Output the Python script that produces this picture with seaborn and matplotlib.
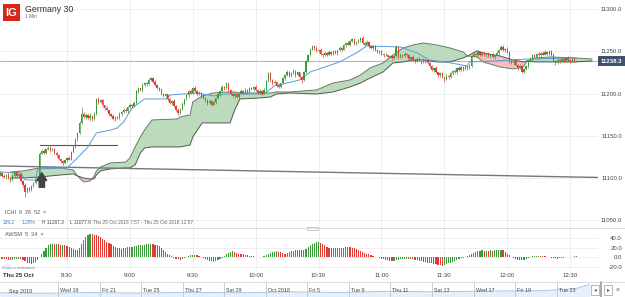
import numpy as np
import matplotlib
matplotlib.use("Agg")
import matplotlib.pyplot as plt
from matplotlib.patches import Rectangle
import seaborn as sns

# ---------------- data ----------------
first_open = 11104
# 1-minute closes, 7:58 .. 12:35
close = [
    11106, 11103, 11101, 11104, 11100, 11098, 11103, 11107, 11102, 11105,   # -2..7
    11097, 11092, 11084, 11088, 11086, 11091, 11094, 11098, 11101, 11129,   # 8..17
    11132, 11130, 11134, 11136, 11133, 11135, 11130, 11127, 11123, 11120,
    11118, 11121, 11124, 11122, 11131, 11137, 11146, 11153, 11165, 11176,
    11172, 11175, 11171, 11174, 11170, 11176, 11194, 11190, 11192, 11186,
    11183, 11180, 11176, 11174, 11170, 11172, 11171, 11176, 11178, 11181,
    11179, 11184, 11187, 11185, 11189, 11203, 11206, 11204, 11210, 11213,
    11211, 11216, 11218, 11214, 11210, 11207, 11204, 11200, 11197, 11199,
    11193, 11189, 11191, 11185, 11181, 11177, 11182, 11188, 11193, 11198,
    11203, 11201, 11207, 11203, 11199, 11201, 11197, 11195, 11192, 11189,
    11191, 11187, 11190, 11195, 11199, 11203, 11208, 11206, 11212, 11204,
    11200, 11197, 11199, 11196, 11200, 11203, 11201, 11204, 11202, 11206,
    11205, 11208, 11204, 11201, 11203, 11200, 11204, 11215, 11224, 11216,
    11212, 11214, 11210, 11208, 11212, 11218, 11222, 11226, 11221, 11224,
    11227, 11222, 11225, 11219, 11216, 11226, 11238, 11246, 11252, 11256,
    11254, 11250, 11252, 11247, 11245, 11248, 11246, 11249, 11247, 11250,
    11248, 11251, 11254, 11252, 11257, 11260, 11258, 11262, 11264, 11259,
    11261, 11263, 11266, 11260, 11258, 11261, 11256, 11254, 11256, 11251,
    11249, 11250, 11247, 11245, 11246, 11243, 11244, 11242, 11244, 11255,
    11243, 11246, 11244, 11247, 11245, 11241, 11243, 11240, 11238, 11241,
    11239, 11237, 11240, 11238, 11236, 11232, 11228, 11230, 11225, 11222,
    11224, 11219, 11217, 11221, 11219, 11224, 11227, 11225, 11230, 11228,
    11231, 11229, 11232, 11230, 11233, 11244, 11247, 11245, 11249, 11246,
    11248, 11245, 11247, 11244, 11246, 11243, 11245, 11248, 11252, 11255,
    11251, 11253, 11249, 11238, 11236, 11239, 11234, 11230, 11233, 11226,
    11229, 11232, 11238, 11241, 11245, 11243, 11247, 11245, 11248, 11246,
    11249, 11247, 11250, 11246, 11239, 11236, 11240, 11238, 11241, 11239,
    11242, 11240, 11238, 11241, 11239, 11238.3,
]
wick_up = [
    2, 1, 2, 1, 3, 1, 2, 1, 2, 1,   1, 1, 2, 1, 2, 1, 1, 2, 1, 2,
    2, 2, 1, 2, 2, 1, 1, 2, 1, 1,   1, 2, 1, 2, 1, 2, 1, 1, 2, 8,
    2, 2, 1, 3, 1, 2, 1, 2, 1, 1,   1, 2, 1, 1, 2, 1, 1, 2, 1, 2,
    2, 1, 2, 1, 2, 1, 2, 1, 2, 1,   1, 2, 2, 1, 2, 1, 1, 2, 1, 2,
    1, 2, 1, 2, 1, 2, 1, 2, 1, 2,   1, 2, 1, 2, 1, 2, 1, 2, 1, 1,
    2, 1, 2, 1, 2, 1, 2, 1, 2, 1,   1, 2, 1, 2, 1, 2, 1, 2, 1, 2,
    2, 1, 2, 1, 2, 1, 2, 1, 2, 1,   1, 2, 1, 2, 1, 2, 1, 2, 1, 2,
    2, 1, 2, 1, 2, 1, 2, 1, 2, 1,   1, 2, 1, 2, 1, 2, 1, 2, 1, 2,
    2, 1, 2, 1, 2, 1, 2, 1, 2, 1,   1, 2, 1.3, 2, 1, 2, 1, 2, 1, 2,
    2, 1, 2, 1, 2, 1, 2, 1, 2, 2,   1, 2, 1, 2, 1, 2, 1, 2, 1, 2,
    2, 1, 2, 1, 2, 1, 2, 1, 2, 1,   1, 2, 1, 2, 1, 2, 1, 2, 1, 2,
    2, 1, 2, 1, 2, 1, 2, 1, 2, 1,   1, 2, 1, 2, 1, 2, 1, 2, 1, 3,
    2, 1, 2, 1, 2, 1, 2, 1, 2, 1,   1, 2, 1, 2, 1, 2, 1, 2, 1, 2,
    2, 1, 2, 1, 2, 1, 2, 1, 2, 1,   1, 2, 1, 2, 1, 1,
]
wick_dn = [
    1, 2, 1, 2, 1, 3, 1, 2, 1, 2,   2, 2, 6, 1, 2, 1, 2, 1, 1, 1,
    1, 2, 1, 1, 2, 1, 1, 2, 1, 2,   2, 1, 2, 1, 1, 1, 1, 2, 1, 1,
    1, 2, 1, 2, 2, 1, 1, 2, 1, 2,   2, 1, 2, 2, 1, 2, 1, 1, 2, 1,
    1, 2, 1, 2, 1, 1, 2, 1, 2, 1,   2, 1, 1, 2, 1, 2, 1, 2, 1, 2,
    2, 1, 2, 1, 2, 2, 1, 1, 2, 1,   2, 1, 2, 1, 2, 1, 2, 1, 2, 2,
    1, 2, 1, 2, 1, 2, 1, 2, 1, 2,   2, 1, 2, 1, 2, 1, 2, 1, 2, 1,
    1, 2, 1, 2, 1, 2, 1, 2, 1, 2,   2, 1, 2, 1, 2, 1, 2, 1, 2, 1,
    1, 2, 1, 2, 3, 1, 2, 1, 2, 1,   2, 1, 2, 1, 2, 1, 2, 1, 2, 1,
    1, 2, 1, 2, 1, 2, 1, 2, 1, 2,   2, 1, 2, 1, 2, 1, 2, 1, 2, 1,
    1, 2, 1, 2, 1, 2, 1, 2, 1, 1,   2, 1, 2, 1, 2, 1, 2, 1, 2, 1,
    1, 2, 1, 2, 1, 2, 1, 2, 1, 2,   2, 1, 3, 1, 2, 1, 2, 1, 2, 1,
    1, 2, 1, 2, 1, 2, 1, 2, 1, 2,   2, 1, 2, 1, 2, 1, 2, 1, 2, 1,
    1, 2, 1, 2, 1, 2, 1, 2, 1, 2,   2, 1, 2, 1, 2, 1, 2, 1, 2, 1,
    1, 2, 1, 2, 1, 2, 1, 2, 1, 2,   2, 1, 2, 1, 2, 1,
]
# Awesome oscillator (5, 34), one bar per minute
awsm = [
    -3, -3.5, -4, -4.5, -5, -5.5, -5, -4, -3, -2.5,
    -3, -5, -8, -11, -13, -14, -12, -9, -5, 0,
    7, 14, 20, 25, 27, 28, 27, 28, 27, 26,
    26, 25, 23, 21, 19, 17, 16, 15, 20, 28,
    36, 43, 48, 50, 49, 47, 46, 44, 42, 39,
    36, 33, 30, 27, 24, 22, 20, 19, 18.5, 19,
    20, 21, 21.5, 22, 23, 24, 25, 25.5, 26, 26.5,
    27, 27.5, 28, 27, 26.5, 26, 24, 20, 16, 12,
    8, 5, 2, -1, -3, -4, -5, -3, -1, 1,
    3, 4, 5, 5.5, 5, 3, 1, -1, -3, -5,
    -7, -8, -9, -8, -6, -4, -1, 3, 7, 10,
    12, 13, 12, 10, 8, 7, 6, 5, 4, 3.5,
    3, 2, 1, 0.5, 0, 0.5, 2, 5, 8, 10,
    11, 12, 12.5, 12, 11, 9, 8, 9, 11, 13,
    14, 15, 15.5, 15, 14.5, 15.5, 18, 22, 26, 29,
    31, 32, 33, 31, 28, 25, 22, 20, 19, 19.5,
    19, 19.2, 19.5, 20, 20.5, 21, 21.5, 21, 20.5, 19,
    17, 15.5, 14, 12, 10, 8, 6, 4, 2.5, 1,
    0, -1, -2.5, -4, -5, -6, -7, -7.5, -7, -6,
    -5, -4.5, -4, -3.5, -3, -3.5, -3, -4, -5, -6,
    -7, -8, -9, -10, -11, -12, -13, -14, -15, -16,
    -17, -18, -17, -15, -13, -11, -9, -7, -5, -3.5,
    -2, -1, 0.5, 2, 4, 7, 10, 12, 13, 14,
    14.5, 14, 14.2, 14, 14.5, 14.3, 14.6, 14.8, 15, 15.2,
    14.5, 12, 8, 4, 1, -2, -4, -5.5, -6, -6.5,
    -5, -3, -1, 1, 2.5, 3, 3.2, 2.8, 3, 2.5,
    2, 1, 0, -1, -1.5, -2, -2.5, -2, -1.5, -1,
    0, 0.5, 1, 1.5, 2, 2.5,
]
# Ichimoku (9, 26, 52): base line and the cloud, minutes after 8:00
kijun_t = [-2, 8, 10, 15, 16, 30, 34, 40, 44, 51, 54, 57, 61, 63, 67, 78, 79, 92,
           100, 106, 124, 129, 141, 146, 160, 168, 173, 189, 197, 203, 213, 221,
           222, 233, 250, 273]
kijun_p = [11107.3, 11106.1, 11097.9, 11097.9, 11110.9, 11112.1, 11121.5, 11136.9,
           11153.4, 11157.0, 11159.3, 11166.4, 11183.0, 11186.5, 11193.6, 11193.6,
           11198.3, 11200.7, 11197.2, 11199.5, 11199.5, 11209.0, 11216.1, 11225.5,
           11237.4, 11248.0, 11256.3, 11255.1, 11248.0, 11239.7, 11236.2, 11232.6,
           11237.4, 11238.5, 11240.9, 11242.1]
cloud_t = [3, 9, 17, 27, 33, 35, 38, 41, 43, 44, 46, 50.5, 58, 60, 62.5, 65, 67,
           70.5, 82.5, 84, 88.7, 90, 94.5, 99.7, 107.8, 110, 112.5, 122, 127, 130,
           136.4, 149, 157, 165, 170, 174.6, 180.8, 185.5, 190.3, 195, 200, 206.5,
           212.7, 219, 221, 225.6, 228.5, 236.6, 242.8, 247.6, 249.5, 253.3, 260.5,
           272.4, 280.5]
span_a = [11107.3, 11108.5, 11112.1, 11112.1, 11109.7, 11102.6, 11095.5, 11096.7,
          11102.6, 11108.5, 11113.2, 11117.9, 11119.1, 11123.9, 11136.9, 11148.7,
          11157.0, 11168.8, 11170.0, 11172.4, 11174.7, 11190.1, 11197.2, 11200.7,
          11201.9, 11201.9, 11200.7, 11200.7, 11200.7, 11201.9, 11201.9, 11204.3,
          11212.5, 11216.1, 11222.0, 11230.3, 11236.2, 11245.6, 11253.9, 11257.4,
          11259.8, 11257.4, 11253.9, 11249.2, 11244.4, 11243.3, 11237.4, 11231.4,
          11229.1, 11231.4, 11238.5, 11242.1, 11243.3, 11242.1, 11240.9]
span_b = [11100.2, 11100.2, 11101.4, 11103.8, 11105.0, 11102.6, 11100.2, 11099.1,
          11099.1, 11103.8, 11108.5, 11110.9, 11112.1, 11112.1, 11115.6, 11129.8,
          11135.7, 11136.9, 11136.9, 11136.9, 11139.2, 11148.7, 11165.3, 11165.3,
          11165.3, 11180.6, 11193.6, 11194.8, 11196.0, 11199.5, 11200.7, 11199.5,
          11201.9, 11207.8, 11212.5, 11218.4, 11225.5, 11236.2, 11237.4, 11239.7,
          11239.7, 11237.4, 11237.4, 11242.1, 11244.4, 11250.4, 11248.0, 11244.4,
          11239.7, 11237.4, 11238.5, 11237.4, 11237.4, 11237.4, 11238.5]
trend_t = [-2, 284]
trend_p = [11114.4, 11100.8]
level_t = [17, 54]
level_p = [11139.2, 11139.2]
arrow_t = 18
arrow_p = [11086.0, 11109.7]
last_price = 11238.3

price_ticks = [11050, 11100, 11150, 11200, 11250, 11300]
awsm_ticks = [-20, 0, 20, 40]
time_ticks = [30, 60, 90, 120, 150, 180, 210, 240, 270]
time_labels = ["8:30", "9:00", "9:30", "10:00", "10:30", "11:00", "11:30", "12:00", "12:30"]
nav_labels = ["Sep 2018", "Wed 19", "Fri 21", "Tue 25", "Thu 27", "Sat 29", "Oct 2018",
              "Fri 5", "Tue 9", "Thu 11", "Sat 13", "Wed 17", "Fri 19", "Tue 23"]
nav_x = [0, 40, 90, 140, 190, 240, 290, 340, 390, 440, 490, 540, 575, 590]
nav_v = [0.72, 0.75, 0.70, 0.74, 0.69, 0.72, 0.66, 0.70, 0.62, 0.66, 0.60, 0.58, 0.45, 0.15]

# ---------------- style ----------------
sns.set_style("white")
plt.rcParams["font.family"] = ["Liberation Sans", "DejaVu Sans"]

GREEN = "#3b9c3b"
RED = "#e23b33"
GRID = "#ededed"
TXT = "#444444"
W, H = 625, 297


def box(x0, y0, x1, y1):
    return [x0 / W, 1 - y1 / H, (x1 - x0) / W, (y1 - y0) / H]


fig = plt.figure(figsize=(W / 100, H / 100), dpi=100)
ax = fig.add_axes(box(0, 0, 598, 228))
aw = fig.add_axes(box(0, 228, 598, 270), sharex=ax)
nav = fig.add_axes(box(0, 282, 590, 297))

t = np.arange(len(close)) - 2
c = np.array(close, float)
o = np.r_[first_open, c[:-1]]
cols = np.where(c >= o, GREEN, RED)
hi = np.maximum(o, c) + np.array(wick_up)
lo = np.minimum(o, c) - np.array(wick_dn)

# ---- cloud ----
ct = np.array(cloud_t)
sa = np.array(span_a)
sb = np.array(span_b)
ax.fill_between(ct, sa, sb, where=sa >= sb, interpolate=True,
                color="#b5d8b5", alpha=0.9, lw=0, zorder=1)
ax.fill_between(ct, sa, sb, where=sa < sb, interpolate=True,
                color="#f6b9b9", alpha=0.9, lw=0, zorder=1)
sns.lineplot(x=ct, y=sa, ax=ax, color="#6a7a6a", lw=0.7, estimator=None, zorder=2)
sns.lineplot(x=ct, y=sb, ax=ax, color="#555555", lw=0.7, estimator=None, zorder=2)

# ---- other lines ----
ax.axhline(last_price, color="#a9b9cf", lw=0.8, zorder=1.5)
sns.lineplot(x=trend_t, y=trend_p, ax=ax, color="#777777", lw=1.0, estimator=None, zorder=2)
sns.lineplot(x=level_t, y=level_p, ax=ax, color="#555555", lw=0.8, estimator=None, zorder=2)
sns.lineplot(x=kijun_t, y=kijun_p, ax=ax, color="#5a9ade", lw=0.7, estimator=None, zorder=2.5)

# ---- candles ----
ax.vlines(t, lo, hi, colors=cols, lw=0.5, zorder=3)
ax.bar(t, np.maximum(np.abs(c - o), 0.6), bottom=np.minimum(o, c), width=0.62,
       color=cols, lw=0, zorder=4)

ax.annotate("", xy=(arrow_t, arrow_p[1]), xytext=(arrow_t, arrow_p[0]),
            arrowprops=dict(arrowstyle="simple,head_length=0.8,head_width=1.0,tail_width=0.55",
                            color="#444444", mutation_scale=7), zorder=5)

ax.set_xlim(-1.96, 283.3)
ax.set_ylim(11041.1, 11310.6)
ax.set_xticks(time_ticks)
ax.set_yticks(price_ticks)
ax.set_yticklabels([f"{v:.1f}" for v in price_ticks])
ax.yaxis.tick_right()
ax.tick_params(axis="y", length=0, pad=17.3, labelsize=4.3, labelcolor=TXT)
ax.tick_params(axis="x", length=0, labelbottom=False)
for lab in ax.get_yticklabels():
    lab.set_horizontalalignment("right")
ax.grid(True, color=GRID, lw=0.6, zorder=0)
for s in ax.spines.values():
    s.set_visible(False)

ax.annotate(f"{last_price:.1f}", xy=(1.004, last_price), xycoords=("axes fraction", "data"),
            ha="left", va="center", fontsize=4.3, color="white", weight="bold",
            bbox=dict(boxstyle="square,pad=0.45", fc="#3e516f", ec="none"),
            annotation_clip=False)

# ---- awesome oscillator ----
ao = np.array(awsm, float)
ao_cols = np.where(np.r_[False, ao[1:] >= ao[:-1]], GREEN, RED)
aw.bar(t, ao, width=0.55, color=ao_cols, lw=0, zorder=3)
aw.set_ylim(-26.7, 61.7)
aw.set_yticks(awsm_ticks)
aw.set_yticklabels([f"{v:.1f}" for v in awsm_ticks])
aw.yaxis.tick_right()
aw.tick_params(axis="y", length=0, pad=17.3, labelsize=4.3, labelcolor=TXT)
for lab in aw.get_yticklabels():
    lab.set_horizontalalignment("right")
aw.set_xticks(time_ticks, labels=time_labels)
aw.tick_params(axis="x", length=0, pad=2.2, labelsize=4.3, labelcolor=TXT)
aw.grid(True, color=GRID, lw=0.6, zorder=0)
for s in aw.spines.values():
    s.set_visible(False)

# ---- navigator ----
nav.fill_between(nav_x, nav_v, 1, color="#e6f0fa", lw=0)
sns.lineplot(x=nav_x, y=nav_v, ax=nav, color="#a8c6e6", lw=0.7, estimator=None)
nav.set_xlim(0, 590)
nav.set_ylim(0, 1)
nav.invert_yaxis()
nav.set_xticks([])
nav.set_yticks([])
for s in nav.spines.values():
    s.set_visible(False)
sep0 = 58
step = 41.55
nav.text(9, 0.6, nav_labels[0], fontsize=3.9, color=TXT, va="center")
for i, lab in enumerate(nav_labels[1:]):
    xs = sep0 + step * i
    nav.axvline(xs, color="#c4c4c4", lw=0.6)
    nav.text(xs + 2, 0.6, lab, fontsize=3.9, color=TXT, va="center")

# ---- frame lines ----
for yy in (228, 281.5):
    fig.add_artist(plt.Line2D([0, 1], [1 - yy / H] * 2, color="#d6d6d6", lw=0.6))
fig.add_artist(Rectangle((307 / W, 1 - 229.5 / H), 11 / W, 3 / H, fc="white",
                         ec="#b0b0b0", lw=0.5, transform=fig.transFigure))
for bx, sym in ((591, "◂"), (604, "▸")):
    fig.add_artist(Rectangle((bx / W, 1 - 295 / H), 8 / W, 10 / H, fc="white",
                             ec="#9a9a9a", lw=0.5, transform=fig.transFigure))
    fig.text((bx + 4) / W, 1 - 290 / H, sym, fontsize=4, color="#555555",
             ha="center", va="center")
fig.add_artist(plt.Line2D([601 / W, 601 / W], [0, 1 - 282 / H], color="#9a9a9a", lw=1.2))
fig.text(618 / W, 1 - 290 / H, "×", fontsize=5, color="#555555", ha="center", va="center")

# ---- header and labels ----
fig.add_artist(Rectangle((3 / W, 1 - 21 / H), 17 / W, 17 / H, fc="#d9261c", ec="none",
                         transform=fig.transFigure))
fig.text(11.5 / W, 1 - 13 / H, "IG", fontsize=8, color="white", weight="bold",
         ha="center", va="center")
fig.text(25 / W, 1 - 9 / H, "Germany 30", fontsize=6.3, color="#333333", va="center")
fig.text(25 / W, 1 - 16.5 / H, "1 Min", fontsize=3.4, color="#666666", va="center")

fig.text(5 / W, 1 - 213 / H, "ICHI  9  26  52  ×", fontsize=4, color="#555555", va="center")
fig.text(3 / W, 1 - 222 / H, "139.2", fontsize=3.4, color="#3a7cc4", va="center")
fig.text(22 / W, 1 - 222 / H, "1.25%", fontsize=3.4, color="#3a7cc4", va="center")
fig.text(42 / W, 1 - 222 / H, "H 11267.3", fontsize=3.4, color=TXT, va="center")
fig.text(70 / W, 1 - 222 / H, "L 11077.9", fontsize=3.4, color=TXT, va="center")
fig.text(93 / W, 1 - 222 / H, "Thu 25 Oct 2018 7:57 - Thu 25 Oct 2018 12:57",
         fontsize=3.4, color="#666666", va="center")
fig.text(5 / W, 1 - 234.5 / H, "AWSM  5  34  ×", fontsize=4, color="#555555", va="center")
fig.text(2 / W, 1 - 268 / H, "Data is indicative", fontsize=3.2, color="#888888", va="center")
fig.text(3 / W, 1 - 275.5 / H, "Thu 25 Oct", fontsize=4.3, color="#333333",
         weight="bold", va="center")

fig.savefig("out.png", dpi=100)
